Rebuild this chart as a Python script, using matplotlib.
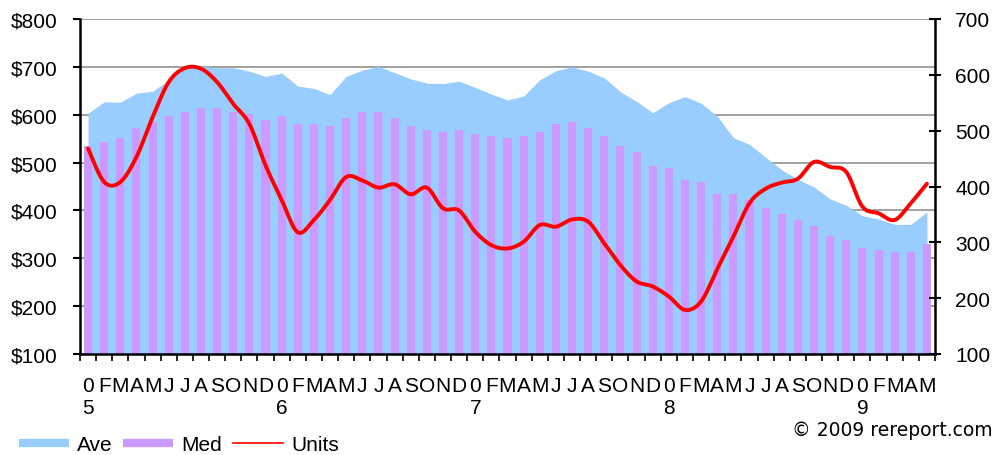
import numpy as np
import matplotlib
matplotlib.use("Agg")
import matplotlib.pyplot as plt
from matplotlib.lines import Line2D

plt.rcParams['font.family'] = ['Liberation Sans', 'DejaVu Sans']

# monthly data, Jan 2005 .. May 2009
ave = [603, 627, 626, 645, 649, 672, 698, 701, 698, 698, 691, 680,
       687, 660, 655, 642, 680, 693, 701, 688, 675, 666, 665, 670,
       657, 643, 631, 639, 673, 692, 700, 691, 677, 648, 628, 604,
       625, 638, 624, 597, 552, 538, 511, 485, 465, 449, 424, 411,
       389, 382, 371, 371, 397]
med = [535, 543, 552, 572, 585, 597, 606, 614, 614, 606, 602, 589,
       597, 581, 581, 577, 593, 606, 606, 593, 577, 568, 564, 568,
       560, 556, 552, 556, 564, 581, 585, 572, 556, 535, 522, 493,
       489, 464, 460, 435, 435, 422, 405, 393, 380, 368, 347, 339,
       322, 318, 314, 314, 330]
units = [468, 408, 408, 453, 524, 587, 612, 611, 587, 548, 512, 438,
         376, 318, 340, 376, 417, 411, 398, 404, 386, 398, 361, 357,
         319, 295, 289, 301, 331, 328, 341, 337, 298, 259, 230, 221,
         203, 179, 194, 252, 310, 370, 396, 407, 414, 444, 435, 426,
         364, 352, 340, 370, 405]

years = ['5', '6', '7', '8', '9']
month_letters = ['', 'F', 'M', 'A', 'M', 'J', 'J', 'A', 'S', 'O', 'N', 'D']

tick_labels = []
for y in years:
    for m in month_letters:
        tick_labels.append('0\n' + y if m == '' else m)
tick_labels = tick_labels[:len(ave)]

left_ticks = [100, 200, 300, 400, 500, 600, 700, 800]
right_ticks = [100, 200, 300, 400, 500, 600, 700]


def smooth(xv, yv, n=24):
    # bezier smoothing like the spreadsheet "smoothed line" option
    pts = np.column_stack([xv, yv]).astype(float)
    p = np.vstack([pts[0], pts, pts[-1]])
    t = np.linspace(0, 1, n, endpoint=False)[:, None]
    out = []
    for i in range(1, len(p) - 2):
        p0, p1, p2, p3 = p[i - 1], p[i], p[i + 1], p[i + 2]
        c1 = p1 + (p2 - p0) / 6
        c2 = p2 - (p3 - p1) / 6
        out.append((1 - t) ** 3 * p1 + 3 * (1 - t) ** 2 * t * c1
                   + 3 * (1 - t) * t ** 2 * c2 + t ** 3 * p2)
    out.append(pts[-1:])
    return np.vstack(out)


x = np.arange(len(ave))

fig = plt.figure(figsize=(9.98, 4.56), dpi=100)
ax = fig.add_axes([80 / 998, 1 - 355 / 456, 855 / 998, 335 / 456])

ax.fill_between(x, 100, ave, color='#99ccff', lw=0, zorder=1)
ax.bar(x, med, width=0.5, color='#cc99ff', zorder=2)

ax.set_xlim(-0.5, len(ave) - 0.5)
ax.set_ylim(100, 800)
ax.set_yticks(left_ticks)
ax.set_yticklabels(['$%d' % v for v in left_ticks], fontsize=15)
ax.set_axisbelow(True)
ax.yaxis.grid(True, color='#999999', lw=1.3)

ax.set_xticks(x)
ax.set_xticklabels(tick_labels, fontsize=15)
ax.set_xticks(np.arange(-0.5, len(ave)), minor=True)
ax.tick_params(axis='x', which='major', length=0, pad=16)
ax.tick_params(axis='x', which='minor', length=5, width=1.2, direction='out')
ax.tick_params(axis='y', length=5, width=1.5, direction='out', pad=11)

for s in ['top', 'right']:
    ax.spines[s].set_visible(False)
ax.spines['left'].set_linewidth(1.8)
ax.spines['bottom'].set_linewidth(1.8)

ax2 = ax.twinx()
sm = smooth(x, units)
ax2.plot(sm[:, 0], sm[:, 1], color='#ff0000', lw=2.8, solid_capstyle='round')
ax2.set_ylim(100, 700)
ax2.set_yticks(right_ticks)
ax2.set_yticklabels([str(v) for v in right_ticks], fontsize=15)
ax2.tick_params(axis='y', length=9, width=1.5, direction='inout', pad=10)
for s in ['top', 'left', 'bottom']:
    ax2.spines[s].set_visible(False)
ax2.spines['right'].set_linewidth(1.8)

handles = [
    Line2D([], [], color='#99ccff', lw=6, solid_capstyle='butt'),
    Line2D([], [], color='#cc99ff', lw=6, solid_capstyle='butt'),
    Line2D([], [], color='#ff0000', lw=1.2),
]
fig.legend(handles, ['Ave', 'Med', 'Units'], loc='center left',
           bbox_to_anchor=(0.019, 0.022), ncol=3, frameon=False,
           fontsize=15, handlelength=2.4, handletextpad=0.4,
           columnspacing=0.5, borderpad=0, borderaxespad=0)

fig.text(0.995, 1 - 431 / 456, '\u00a9 2009 rereport.com', ha='right',
         va='center', fontsize=13.5, family='DejaVu Sans')

fig.savefig('out.png', dpi=100)
